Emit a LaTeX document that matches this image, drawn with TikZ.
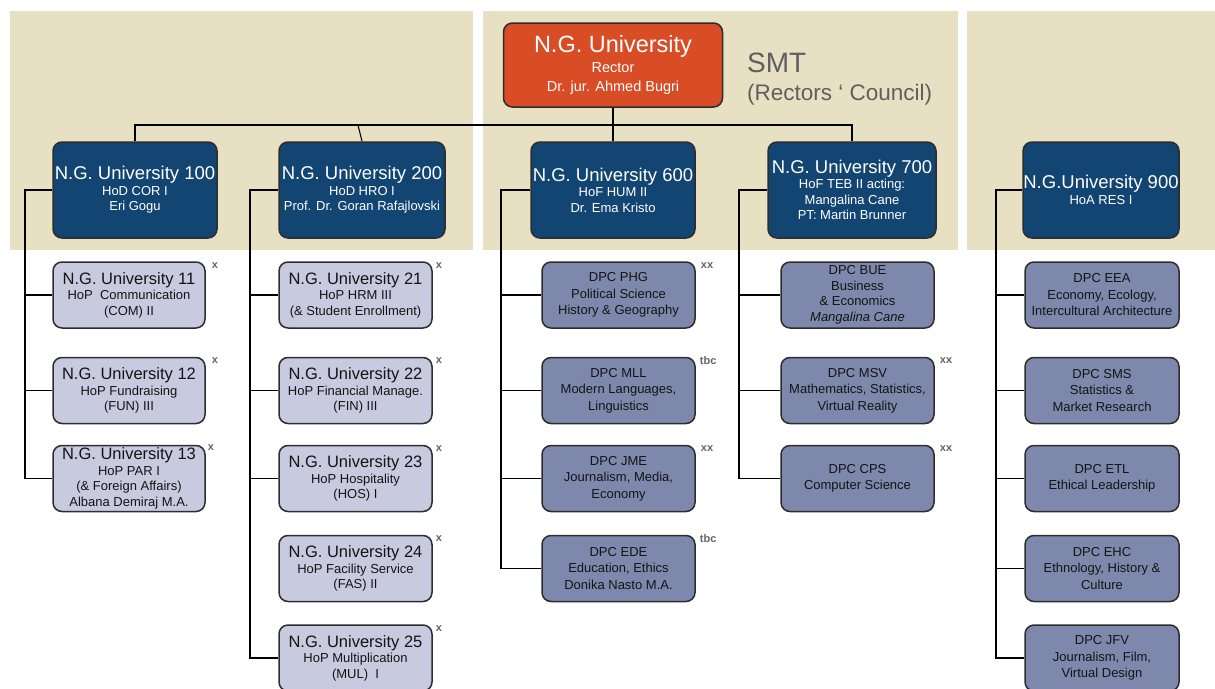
\documentclass[tikz,border=0pt]{standalone}
\usepackage{fontspec}
\setmainfont{Liberation Sans}
\definecolor{beigeF}{RGB}{232,224,195}
\definecolor{orangeR}{RGB}{216,76,38}
\definecolor{bleuD}{RGB}{18,69,114}
\definecolor{lavande}{RGB}{200,203,224}
\definecolor{ardoise}{RGB}{126,136,172}
\definecolor{bordure}{RGB}{45,45,45}
\definecolor{noirT}{RGB}{20,20,20}
\definecolor{grisS}{RGB}{95,95,95}
\definecolor{grisM}{RGB}{100,100,100}
\newcommand{\PoliceRecteur}{\fontsize{23.5}{26}\selectfont}
\newcommand{\PoliceDirection}{\fontsize{18.5}{20}\selectfont}
\newcommand{\PoliceUnite}{\fontsize{16.5}{18}\selectfont}
\begin{document}
\begin{tikzpicture}[x=1pt,y=-1pt]
% Styles
\tikzstyle{trait}=[line width=1.1pt,draw=black]
\tikzstyle{fond}=[fill=beigeF]
\tikzstyle{boite}=[draw=bordure,line width=1.5pt,rounded corners=9pt,align=center,inner sep=0pt,font=\fontsize{13}{15.5}\selectfont]
\tikzstyle{recteur}=[boite,fill=orangeR,text=white,minimum width=219pt,minimum height=84pt,font=\fontsize{14.5}{19.5}\selectfont]
\tikzstyle{direction}=[boite,fill=bleuD,text=white,minimum height=96pt]
\tikzstyle{unite}=[boite,fill=lavande,text=noirT,minimum width=153pt,minimum height=66pt]
\tikzstyle{dpc}=[boite,fill=ardoise,text=noirT,minimum width=153pt,minimum height=66pt,font=\fontsize{13}{16.5}\selectfont]
\tikzstyle{marque}=[anchor=west,inner sep=0pt,text=grisM,font=\fontsize{11}{12}\selectfont\bfseries]
\tikzstyle{smt}=[anchor=base west,inner sep=0pt,text=grisS]
% Dimensions
\def\NiveauA{65}
\def\NiveauB{190}
\def\Barre{125}
\def\LigneA{295}
\def\LigneB{390.5}
\def\LigneC{478.5}
\def\LigneD{568.5}
\def\LigneE{658}
\useasboundingbox (0,0) rectangle (1215,688);
% Fonds
\fill[fond] (10,11) rectangle (473,250);
\fill[fond] (483,11) rectangle (958,250);
\fill[fond] (967,11) rectangle (1215,250);
% Noeuds
\node[recteur] (R) at (613,\NiveauA) {{\PoliceRecteur N.G. University}\\Rector\\Dr. jur. Ahmed Bugri};
\node[smt,font=\fontsize{28}{30}\selectfont] (SMT) at (747,72) {SMT};
\node[smt,font=\fontsize{22.5}{24}\selectfont] (Conseil) at (747,100) {(Rectors ‘ Council)};
\node[direction,minimum width=164pt] (D100) at (135,\NiveauB) {{\PoliceDirection N.G. University 100}\\HoD COR I\\Eri Gogu};
\node[direction,minimum width=166pt] (D200) at (362,\NiveauB) {{\PoliceDirection N.G. University 200}\\HoD HRO I\\Prof. Dr. Goran Rafajlovski};
\node[direction,minimum width=164pt] (D600) at (613,\NiveauB) {{\PoliceDirection N.G. University 600}\\HoF HUM II\\Dr. Ema Kristo};
\node[direction,minimum width=168pt] (D700) at (852,\NiveauB) {{\PoliceDirection N.G. University 700}\\HoF TEB II acting:\\Mangalina Cane\\PT: Martin Brunner};
\node[direction,minimum width=156pt] (D900) at (1101,\NiveauB) {{\PoliceDirection N.G.University 900}\\HoA RES I};
% colonne 100
\node[unite,minimum width=152pt] (U11) at (129,\LigneA) {{\PoliceUnite N.G. University 11}\\HoP~~Communication\\(COM) II};
\node[unite,minimum width=152pt] (U12) at (129,\LigneB) {{\PoliceUnite N.G. University 12}\\HoP Fundraising\\(FUN) III};
\node[unite,minimum width=152pt] (U13) at (129,\LigneC) {{\PoliceUnite N.G. University 13}\\HoP PAR I\\(\& Foreign Affairs)\\Albana Demiraj M.A.};
% colonne 200
\node[unite] (U21) at (355.5,\LigneA) {{\PoliceUnite N.G. University 21}\\HoP HRM III\\(\& Student Enrollment)};
\node[unite] (U22) at (355.5,\LigneB) {{\PoliceUnite N.G. University 22}\\HoP Financial Manage.\\(FIN) III};
\node[unite] (U23) at (355.5,\LigneC) {{\PoliceUnite N.G. University 23}\\HoP Hospitality\\(HOS) I};
\node[unite] (U24) at (355.5,\LigneD) {{\PoliceUnite N.G. University 24}\\HoP Facility Service\\(FAS) II};
\node[unite] (U25) at (355.5,\LigneE) {{\PoliceUnite N.G. University 25}\\HoP Multiplication\\(MUL)~~I};
% colonne 600
\node[dpc] (P1) at (618.5,\LigneA) {DPC PHG\\Political Science\\History \& Geography};
\node[dpc] (P2) at (618.5,\LigneB) {DPC MLL\\Modern Languages,\\Linguistics};
\node[dpc] (P3) at (618.5,\LigneC) {DPC JME\\Journalism, Media,\\Economy};
\node[dpc] (P4) at (618.5,\LigneD) {DPC EDE\\Education, Ethics\\Donika Nasto M.A.};
% colonne 700
\node[dpc,font=\fontsize{13}{15.5}\selectfont] (T1) at (857.5,\LigneA) {DPC BUE\\Business\\\& Economics\\\textit{Mangalina Cane}};
\node[dpc] (T2) at (857.5,\LigneB) {DPC MSV\\Mathematics, Statistics,\\Virtual Reality};
\node[dpc] (T3) at (857.5,\LigneC) {DPC CPS\\Computer Science};
% colonne 900
\node[dpc,minimum width=154pt] (A1) at (1102,\LigneA) {DPC EEA\\Economy, Ecology,\\Intercultural Architecture};
\node[dpc,minimum width=154pt] (A2) at (1102,\LigneB) {DPC SMS\\Statistics \&\\Market Research};
\node[dpc,minimum width=154pt] (A3) at (1102,\LigneC) {DPC ETL\\Ethical Leadership};
\node[dpc,minimum width=154pt] (A4) at (1102,\LigneD) {DPC EHC\\Ethnology, History \&\\Culture};
\node[dpc,minimum width=154pt] (A5) at (1102,\LigneE) {DPC JFV\\Journalism, Film,\\Virtual Design};
% Marques
\node[marque] (m11) at ([xshift=6pt,yshift=-4pt]U11.north east) {x};
\node[marque] (m12) at ([xshift=6pt,yshift=-4pt]U12.north east) {x};
\node[marque] (m13) at ([xshift=2pt,yshift=-3pt]U13.north east) {x};
\node[marque] (m21) at ([xshift=3pt,yshift=-4pt]U21.north east) {x};
\node[marque] (m22) at ([xshift=3pt,yshift=-4pt]U22.north east) {x};
\node[marque] (m23) at ([xshift=3pt,yshift=-4pt]U23.north east) {x};
\node[marque] (m24) at ([xshift=3pt,yshift=-4pt]U24.north east) {x};
\node[marque] (m25) at ([xshift=3pt,yshift=-4pt]U25.north east) {x};
\node[marque] (mP1) at ([xshift=5pt,yshift=-4pt]P1.north east) {xx};
\node[marque] (mP2) at ([xshift=4pt,yshift=-4pt]P2.north east) {tbc};
\node[marque] (mP3) at ([xshift=5pt,yshift=-4pt]P3.north east) {xx};
\node[marque] (mP4) at ([xshift=4pt,yshift=-4pt]P4.north east) {tbc};
\node[marque] (mT2) at ([xshift=5pt,yshift=-4pt]T2.north east) {xx};
\node[marque] (mT3) at ([xshift=5pt,yshift=-4pt]T3.north east) {xx};
% Arcs
\coordinate (Barre) at (613,\Barre);
\draw[trait] (R.south) -- (Barre);
\draw[trait] (D100.north) |- (Barre) -| (D700.north);
\draw[trait] (Barre) -- (D600.north);
\draw[trait] (D200.north) -- ([xshift=-4pt]D200.north |- Barre);
\coordinate (S100) at (25,\NiveauB);
\coordinate (S200) at (250,\NiveauB);
\coordinate (S600) at (501,\NiveauB);
\coordinate (S700) at (739,\NiveauB);
\coordinate (S900) at (996,\NiveauB);
\draw[trait] (D100.west) -- (S100) |- (U13.west);
\draw[trait] (U11.west) -- (U11.west -| S100);
\draw[trait] (U12.west) -- (U12.west -| S100);
\draw[trait] (D200.west) -- (S200) |- (U25.west);
\draw[trait] (U21.west) -- (U21.west -| S200);
\draw[trait] (U22.west) -- (U22.west -| S200);
\draw[trait] (U23.west) -- (U23.west -| S200);
\draw[trait] (D600.west) -- (S600) |- (P4.west);
\draw[trait] (P1.west) -- (P1.west -| S600);
\draw[trait] (P2.west) -- (P2.west -| S600);
\draw[trait] (P3.west) -- (P3.west -| S600);
\draw[trait] (D700.west) -- (S700) |- (T3.west);
\draw[trait] (T1.west) -- (T1.west -| S700);
\draw[trait] (T2.west) -- (T2.west -| S700);
\draw[trait] (D900.west) -- (S900) |- (A5.west);
\draw[trait] (A1.west) -- (A1.west -| S900);
\draw[trait] (A2.west) -- (A2.west -| S900);
\draw[trait] (A3.west) -- (A3.west -| S900);
\draw[trait] (A4.west) -- (A4.west -| S900);
\end{tikzpicture}
\end{document}
